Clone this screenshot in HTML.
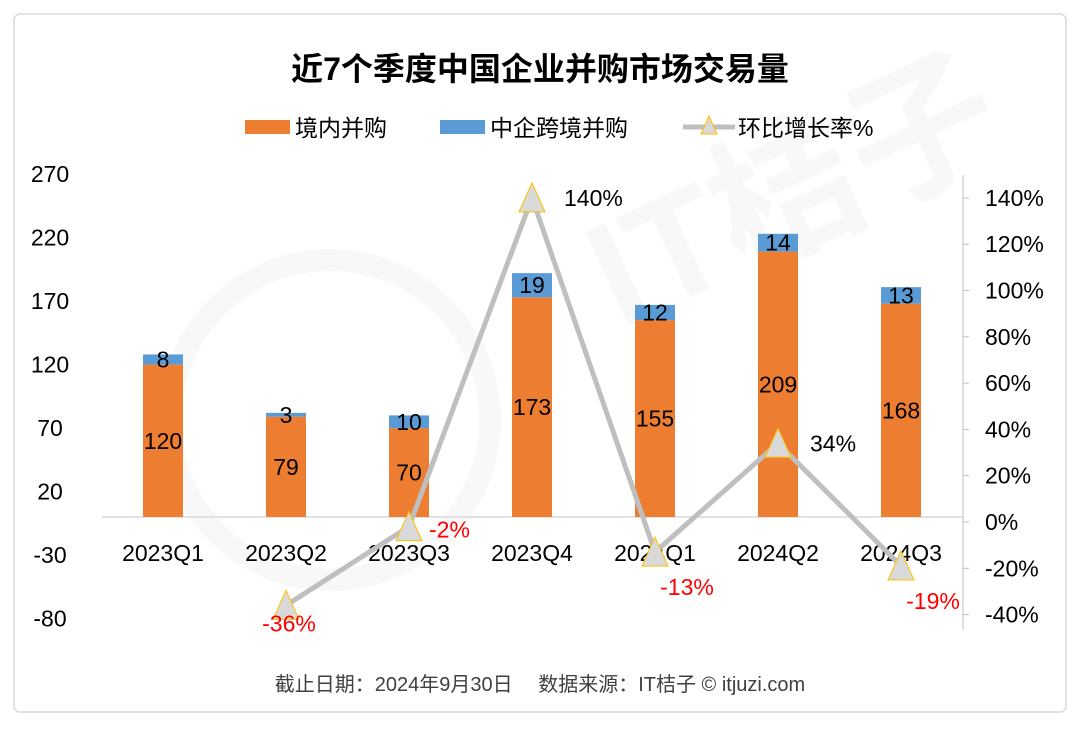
<!DOCTYPE html>
<html><head><meta charset="utf-8"><style>
body{margin:0;background:#fff;}
svg text{font-family:"Liberation Sans","Noto Sans CJK SC",sans-serif;}
</style></head><body>
<svg id="c" width="1080" height="726" xmlns="http://www.w3.org/2000/svg">
<rect x="14" y="14" width="1052" height="698" rx="6" fill="#fff" stroke="#d9d9d9" stroke-width="1.5"/>
<g opacity="0.03"><circle cx="330" cy="420" r="160" fill="none" stroke="#000" stroke-width="22"/><text x="620" y="330" font-size="150" font-weight="bold" transform="rotate(-25 620 330)">IT桔子</text></g>
<text x="540" y="80" font-size="32" font-weight="bold" text-anchor="middle" fill="#000">近7个季度中国企业并购市场交易量</text>
<g>
<g><rect x="245" y="120" width="45" height="14" fill="#ed7d31"/><text x="295" y="136" font-size="23">境内并购</text></g>
<g><rect x="440" y="120" width="45" height="14" fill="#5b9bd5"/><text x="490" y="136" font-size="23">中企跨境并购</text></g>
<g><line x1="683" y1="127" x2="735" y2="127" stroke="#bfbfbf" stroke-width="5"/><polygon points="709,116 701,134 717,134" fill="#d9d9d9" stroke="#ffc000" stroke-width="1"/><text x="738" y="136" font-size="23">环比增长率%</text></g>
</g>
<g id="plot"></g>
<text x="540" y="691" font-size="20" text-anchor="middle" fill="#404040">截止日期：2024年9月30日　 数据来源：IT桔子 © itjuzi.com</text>
</svg>
<script>
const categories=["2023Q1","2023Q2","2023Q3","2023Q4","2024Q1","2024Q2","2024Q3"];
const domestic=[120,79,70,173,155,209,168];
const crossBorder=[8,3,10,19,12,14,13];
const growth=[null,-36,-2,140,-13,34,-19];
const leftTicks=[270,220,170,120,70,20,-30,-80];
const rightTicks=[140,120,100,80,60,40,20,0,-20,-40];
const labelPlace=["r","b","r","r","br","r","br"];

const NS="http://www.w3.org/2000/svg";
const g=document.getElementById("plot");
const yL=v=>517-(v*63.5/50);
const yR=v=>522-(v*46.3/20);
const xC=i=>163+i*123;
const bw=40;
function mk(t,a,txt){const e=document.createElementNS(NS,t);for(const k in a)e.setAttribute(k,a[k]);if(txt!==undefined)e.textContent=txt;g.appendChild(e);return e;}

leftTicks.forEach(v=>{const e=mk("text",{x:50,y:yL(v)+8,"font-size":23,"text-anchor":"middle"},v);

});
rightTicks.forEach(v=>{const e=mk("text",{x:985,y:yR(v)+8,"font-size":23},v+"%");


const t=mk("line",{x1:963,x2:969,y1:yR(v),y2:yR(v),stroke:"#bfbfbf"});

});
const ax=mk("line",{x1:102,x2:963,y1:yL(0),y2:yL(0),stroke:"#d9d9d9","stroke-width":1.5});


const ra=mk("line",{x1:963,x2:963,y1:175,y2:630,stroke:"#bfbfbf"});



categories.forEach((c,i)=>{
 const x=xC(i);
 const b=mk("rect",{x:x-bw/2,y:yL(domestic[i]),width:bw,height:yL(0)-yL(domestic[i]),fill:"#ed7d31"});
 
 
 const top=domestic[i]+crossBorder[i];
 const b2=mk("rect",{x:x-bw/2,y:yL(top),width:bw,height:yL(domestic[i])-yL(top),fill:"#5b9bd5"});
 
 
 const l1=mk("text",{x:x,y:(yL(0)+yL(domestic[i]))/2+8,"font-size":23,"text-anchor":"middle"},domestic[i]);
 
 
 const l2=mk("text",{x:x,y:(yL(domestic[i])+yL(top))/2+8,"font-size":23,"text-anchor":"middle"},crossBorder[i]);
 
 
 const xl=mk("text",{x:x,y:561,"font-size":23,"text-anchor":"middle"},c);
 
 
});
let pts=[];growth.forEach((v,i)=>{if(v!==null)pts.push(xC(i)+","+yR(v));});
const pl=mk("polyline",{points:pts.join(" "),fill:"none",stroke:"#bfbfbf","stroke-width":5,"stroke-linejoin":"round"});


growth.forEach((v,i)=>{if(v===null)return;const x=xC(i),y=yR(v);
 const m=mk("polygon",{points:`${x},${y-15} ${x-13},${y+14} ${x+13},${y+14}`,fill:"#d9d9d9",stroke:"#ffc000","stroke-width":1});
 
 
 const neg=v<0;let lx=x+32,ly=y+8,anc="start";
 if(labelPlace[i]==="b"){lx=x+3;ly=y+26;anc="middle";}
 if(labelPlace[i]==="br"){lx=x+32;ly=y+43;anc="middle";}
 if(neg&&labelPlace[i]==="r"){lx=x+20;ly=y+11;}
 const t=mk("text",{x:lx,y:ly,"font-size":23,"text-anchor":anc,fill:neg?"#ff0000":"#000"},v+"%");
 
 
});
</script>
</body></html>
